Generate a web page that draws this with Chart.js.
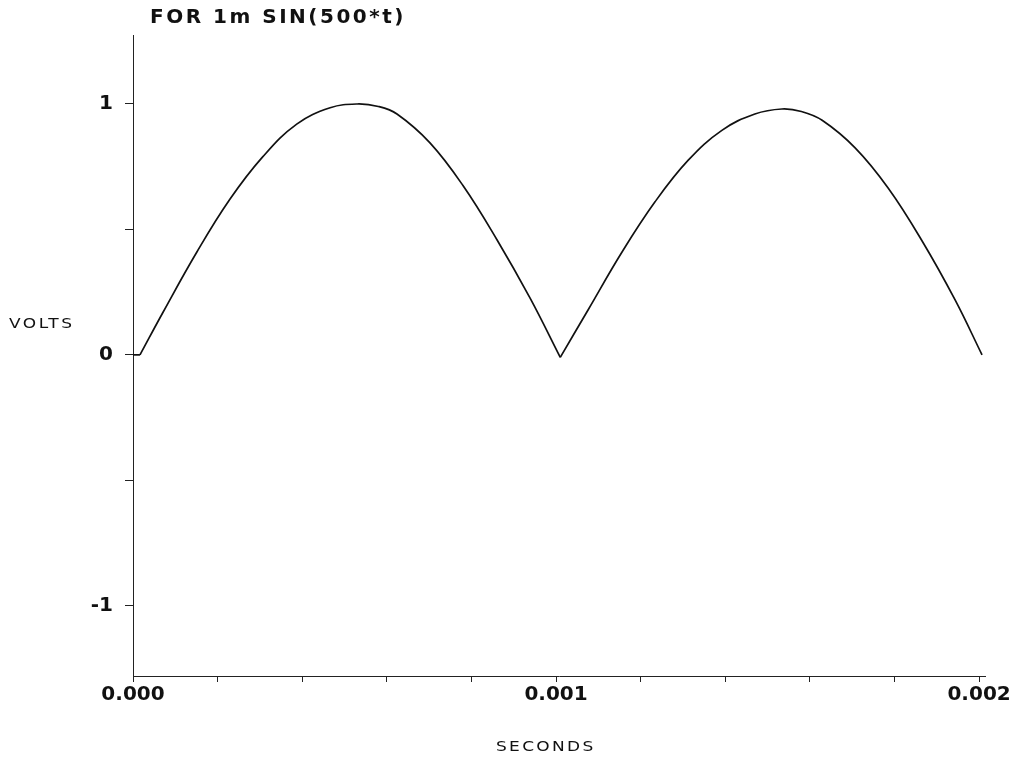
<!DOCTYPE html>
<html>
<head>
<meta charset="utf-8">
<script src="https://cdn.jsdelivr.net/npm/chart.js@4/dist/chart.umd.min.js"></script>
<style>
  html, body { margin: 0; padding: 0; background: #fff; }
  #wrap { position: relative; width: 1017px; height: 764px; }
  canvas { position: absolute; left: 0; top: 0; }
  .txt { position: absolute; color: #111; white-space: nowrap; }
  #titulo { left: 150px; top: 4px; font: bold 20px "DejaVu Sans", sans-serif; letter-spacing: 2.5px; }
  #volts { left: 9px; top: 313px; font: 17px "DejaVu Sans", sans-serif; letter-spacing: 2.5px; transform: scaleY(0.8); }
  #seconds { left: 496px; top: 736px; font: 17px "DejaVu Sans", sans-serif; letter-spacing: 2.3px; transform: scaleY(0.8); }
</style>
</head>
<body>
<div id="wrap">
  <canvas id="grafico" width="1017" height="764"></canvas>
  <div class="txt" id="titulo">FOR 1m SIN(500*t)</div>
  <div class="txt" id="volts">VOLTS</div>
  <div class="txt" id="seconds">SECONDS</div>
</div>
<script>
// datos (tiempo en segundos, voltios)
// tramo plano inicial
const tiempos0 = [0, 0.0000165];
const voltios0 = [0, 0];
// primer semiperiodo
const tiempos1 = [0.0000165, 0.000071, 0.000151, 0.000229, 0.000307, 0.000387, 0.000466, 0.00053,
  0.00058, 0.000624, 0.000702, 0.00078, 0.00086, 0.000939, 0.00101];
const voltios1 = [0, 0.17, 0.41, 0.62, 0.79, 0.92, 0.985, 1.0,
  0.99, 0.96, 0.845, 0.675, 0.46, 0.225, -0.01];
// segundo semiperiodo
const tiempos2 = [0.00101, 0.001076, 0.001156, 0.001234, 0.001312, 0.001392, 0.00147, 0.001534,
  0.00158, 0.001629, 0.001707, 0.001785, 0.001865, 0.001943, 0.002007];
const voltios2 = [-0.01, 0.18, 0.41, 0.61, 0.775, 0.895, 0.96, 0.98,
  0.97, 0.935, 0.825, 0.665, 0.455, 0.22, 0];

const ticksX = [0, 0.0002, 0.0004, 0.0006, 0.0008, 0.001, 0.0012, 0.0014, 0.0016, 0.0018, 0.002];
const etiquetasX = { 0: '0.000', 0.001: '0.001', 0.002: '0.002' };
const ticksY = [-1, -0.5, 0, 0.5, 1];
const etiquetasY = { '-1': '-1', 0: '0', 1: '1' };

const tramo = (ts, vs) => ({
  data: ts.map((t, i) => ({ x: t, y: vs[i] })),
  borderColor: '#111',
  borderWidth: 1.7,
  pointRadius: 0,
  tension: 0.4,
  fill: false
});
const fuenteTicks = { family: 'DejaVu Sans', weight: 'bold', size: 20 };

new Chart(document.getElementById('grafico'), {
  type: 'line',
  data: {
    datasets: [tramo(tiempos0, voltios0), tramo(tiempos1, voltios1), tramo(tiempos2, voltios2)]
  },
  options: {
    responsive: false,
    animation: false,
    layout: { padding: { left: 0, right: 32, top: 35, bottom: 0 } },
    plugins: { legend: { display: false }, tooltip: { enabled: false } },
    scales: {
      x: {
        type: 'linear',
        min: 0,
        max: 0.002014,
        afterFit: s => { s.height = 88; },
        afterBuildTicks: s => { s.ticks = ticksX.map(v => ({ value: v })); },
        border: { display: true, color: '#222', width: 1 },
        grid: { drawOnChartArea: false, drawTicks: true, tickLength: 6, color: '#222' },
        ticks: {
          color: '#111',
          font: fuenteTicks,
          padding: 1,
          maxRotation: 0,
          autoSkip: false,
          callback: v => etiquetasX[v] || ''
        }
      },
      y: {
        type: 'linear',
        min: -1.28,
        max: 1.275,
        afterFit: s => { s.width = 133; },
        afterBuildTicks: s => { s.ticks = ticksY.map(v => ({ value: v })); },
        border: { display: true, color: '#222', width: 1 },
        grid: { drawOnChartArea: false, drawTicks: true, tickLength: 8, color: '#222' },
        ticks: {
          color: '#111',
          font: fuenteTicks,
          padding: 12,
          autoSkip: false,
          callback: v => etiquetasY[v] || ''
        }
      }
    }
  }
});
</script>
</body>
</html>
